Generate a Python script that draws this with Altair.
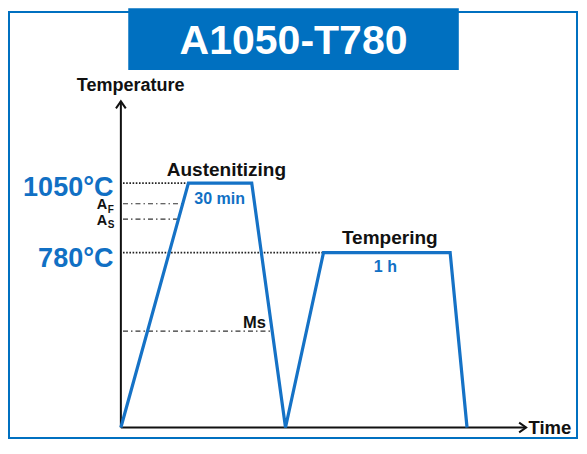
import altair as alt
import pandas as pd

# ---- data (time in min, temperature in °C; schematic) ----
prof_t = [0, 32, 62, 78, 96, 156, 164]
prof_T = [100, 1050, 1050, 100, 780, 780, 100]

# reference levels
lvl_name = ["1050", "AF", "AS", "780", "Ms"]
lvl_T = [1050, 970, 910, 780, 475]
lvl_t_start = [1, 1, 1, 1, 1]
lvl_t_end = [32, 29, 27, 96, 71.5]
lvl_style = ["dot", "dashdot", "dashdot", "dot", "dashdot"]

# axes
axis_t_end = 192
axis_T_top = 1368
axis_T_base = 100

# labels
lab_text = ["1050°C", "780°C", "A", "F", "A", "S",
            "Austenitizing", "30 min", "Tempering", "1 h", "Ms",
            "Time", "Temperature"]
lab_t = [-3.5, -3.5, -6.5, -6.2, -6.5, -6.2, 50, 46.8, 127.4, 125.3, 63.3, 193.1, 4.6]
lab_T = [1001, 724, 948, 934, 886, 874, 1076, 970, 812, 705, 488, 74, 1408]
lab_align = ["right", "right", "right", "left", "right", "left",
             "center", "center", "center", "center", "center", "left", "center"]
lab_size = [27, 27, 14.5, 10, 14.5, 10, 19, 16, 19, 16, 16.5, 18.5, 18]
lab_color = ["#1170C4", "#1170C4", "#111111", "#111111", "#111111", "#111111",
             "#111111", "#1170C4", "#111111", "#1170C4", "#111111", "#111111", "#111111"]

title_text = "A1050-T780"
banner_t = [3.5, 160.1]
banner_T = [1490, 1730]

BLUE = "#0070C0"
FONT = "Liberation Sans"

xs = alt.Scale(domain=[-53.0, 216.1], nice=False, zero=False)
ys = alt.Scale(domain=[59.2, 1715.4], nice=False, zero=False)

def X(f="t"):
    return alt.X(f"{f}:Q", scale=xs, axis=None)

def Y(f="T"):
    return alt.Y(f"{f}:Q", scale=ys, axis=None)

layers = []

# banner
banner = pd.DataFrame({"t": [banner_t[0]], "t2": [banner_t[1]],
                       "T": [banner_T[0]], "T2": [banner_T[1]]})
layers.append(alt.Chart(banner).mark_rect(color=BLUE).encode(
    x=X("t"), x2="t2", y=Y("T"), y2="T2"))

title_df = pd.DataFrame({"t": [(banner_t[0] + banner_t[1]) / 2], "T": [1553], "txt": [title_text]})
layers.append(alt.Chart(title_df).mark_text(
    font=FONT, fontWeight="bold", fontSize=41, color="white",
    align="center", baseline="alphabetic").encode(x=X(), y=Y(), text="txt:N"))

# level lines
lv = pd.DataFrame({"name": lvl_name, "T": lvl_T, "t": lvl_t_start,
                   "t2": lvl_t_end, "style": lvl_style})
layers.append(alt.Chart(lv[lv["style"] == "dot"]).mark_rule(
    color="#222222", strokeWidth=1.6, strokeDash=[1.6, 1.6]).encode(
    x=X("t"), x2="t2", y=Y("T")))
layers.append(alt.Chart(lv[lv["style"] == "dashdot"]).mark_rule(
    color="#333333", strokeWidth=1.2, strokeDash=[5, 3, 1.5, 3]).encode(
    x=X("t"), x2="t2", y=Y("T")))

# axes
ax = pd.DataFrame({"t": [0, 0], "t2": [0, axis_t_end],
                   "T": [axis_T_base, axis_T_base], "T2": [axis_T_top, axis_T_base]})
layers.append(alt.Chart(ax).mark_rule(color="#111111", strokeWidth=2).encode(
    x=X("t"), x2="t2", y=Y("T"), y2="T2"))
layers.append(alt.Chart(pd.DataFrame({"t": [0], "T": [axis_T_top]})).mark_point(
    shape="M-0.7,1L0,0L0.7,1", size=196, filled=False, color="#111111",
    strokeWidth=2, opacity=1).encode(x=X(), y=Y()))
layers.append(alt.Chart(pd.DataFrame({"t": [axis_t_end], "T": [axis_T_base]})).mark_point(
    shape="M-1,-0.7L0,0L-1,0.7", size=196, filled=False, color="#111111",
    strokeWidth=2, opacity=1).encode(x=X(), y=Y()))

# profile
pf = pd.DataFrame({"t": prof_t, "T": prof_T, "o": list(range(len(prof_t)))})
layers.append(alt.Chart(pf).mark_line(color="#1572C6", strokeWidth=3.2,
                                      strokeJoin="miter").encode(
    x=X(), y=Y(), order="o:Q"))

# labels
for txt, t, T, al, sz, col in zip(lab_text, lab_t, lab_T, lab_align, lab_size, lab_color):
    d = pd.DataFrame({"t": [t], "T": [T], "txt": [txt]})
    layers.append(alt.Chart(d).mark_text(
        font=FONT, fontWeight="bold", fontSize=sz, color=col,
        align=al, baseline="alphabetic").encode(x=X(), y=Y(), text="txt:N"))

chart = alt.layer(*layers).properties(
    width=568, height=426,
    padding={"left": 1, "top": 4, "right": 2, "bottom": 2},
    autosize=alt.AutoSizeParams(type="none"),
    background="white",
).configure_view(stroke=BLUE, strokeWidth=2)

chart.save("out.html", embed_options={"renderer": "svg", "actions": False})
